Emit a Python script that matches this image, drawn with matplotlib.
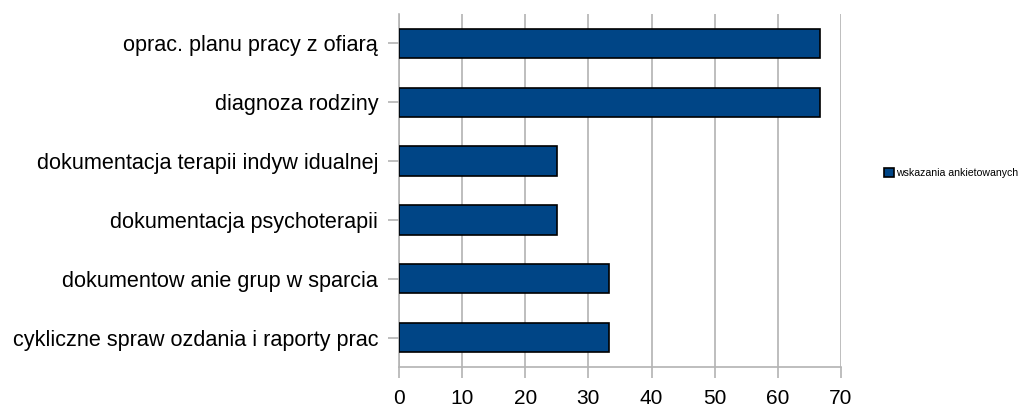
import matplotlib
matplotlib.use("Agg")
import matplotlib.pyplot as plt
from matplotlib.patches import Patch

categories = [
    "cykliczne spraw ozdania i raporty prac",
    "dokumentow anie grup w sparcia",
    "dokumentacja psychoterapii",
    "dokumentacja terapii indyw idualnej",
    "diagnoza rodziny",
    "oprac. planu pracy z ofiarą",
]
values = [33.3, 33.3, 25.0, 25.0, 66.7, 66.7]
series_name = "wskazania ankietowanych"
xticks = [0, 10, 20, 30, 40, 50, 60, 70]

plt.rcParams['font.family'] = ['Liberation Sans', 'DejaVu Sans']

fig = plt.figure(figsize=(10.26, 4.08), dpi=100)
W, H = 1026, 408
ax = fig.add_axes([399 / W, 1 - 367 / H, (841 - 399) / W, (367 - 14) / H])

color = "#004586"
grid_c = "#b3b3b3"
ypos = list(range(len(categories)))
ax.barh(ypos, values, height=0.5, color=color, edgecolor="black", linewidth=1.2, zorder=3)

ax.set_xlim(0, 70)
ax.set_ylim(-0.5, len(categories) - 0.5)
ax.set_xticks(xticks)
ax.set_xticklabels([str(t) for t in xticks], fontsize=15)
ax.set_yticks(ypos)
ax.set_yticklabels(categories, fontsize=15.6)
ax.xaxis.grid(True, color=grid_c, linewidth=1.2, zorder=0)
ax.set_axisbelow(True)
ax.spines["top"].set_visible(False)
ax.spines["right"].set_visible(False)
ax.spines["left"].set_color(grid_c)
ax.spines["bottom"].set_color(grid_c)
ax.spines["left"].set_linewidth(1.2)
ax.spines["bottom"].set_linewidth(1.2)
ax.tick_params(axis="both", color=grid_c, width=1.2, length=8, labelcolor="black")
ax.tick_params(axis="y", pad=7)
ax.tick_params(axis="x", pad=8)

handle = Patch(facecolor=color, edgecolor="black", linewidth=1.2)
fig.legend([handle], [series_name], loc="center left",
           bbox_to_anchor=(879 / W, 1 - 173 / H), frameon=False, fontsize=7.6,
           handlelength=0.9, handleheight=0.9, handletextpad=0.2, borderpad=0)

fig.savefig("out.png", dpi=100, facecolor="white")
